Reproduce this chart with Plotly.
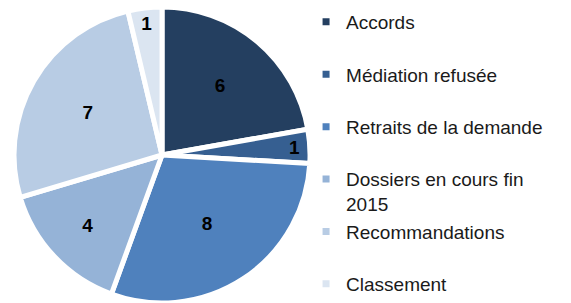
import plotly.graph_objects as go

categories = ["Accords", "Médiation refusée", "Retraits de la demande",
              "Dossiers en cours fin<br>2015", "Recommandations", "Classement"]
values = [6, 1, 8, 4, 7, 1]
colors = ["#243F60", "#365F91", "#4F81BD", "#95B3D7", "#B8CCE4", "#DBE5F1"]

# blank second line gives the roomy legend spacing of the original
legend_labels = [c if "<br>" in c else c + "<br> " for c in categories]
legend_labels[-1] = categories[-1]

fig = go.Figure(go.Pie(
    labels=legend_labels,
    values=values,
    sort=False,
    direction="clockwise",
    rotation=0,
    marker=dict(colors=colors, line=dict(color="white", width=5)),
    textinfo="value",
    textposition="inside",
    insidetextorientation="horizontal",
    textfont=dict(family="Liberation Sans", size=19, color="black", weight="bold"),
    domain=dict(x=[0.0245, 0.543], y=[0.0, 0.977]),
    hoverinfo="label+value",
))

fig.update_layout(
    width=571, height=303,
    margin=dict(l=0, r=0, t=0, b=0),
    paper_bgcolor="white",
    plot_bgcolor="white",
    showlegend=True,
    legend=dict(
        x=0.536, y=0.957, xanchor="left", yanchor="top",
        valign="top",
        font=dict(family="Liberation Sans", size=19, color="#1a1a1a"),
        itemwidth=30,
        tracegroupgap=0,
        bgcolor="rgba(0,0,0,0)",
    ),
    uniformtext=dict(minsize=19, mode="show"),
)

fig.write_html("out.html",
               config={"displayModeBar": False},
               post_script="document.body.style.margin='0';document.body.style.overflow='hidden';")
